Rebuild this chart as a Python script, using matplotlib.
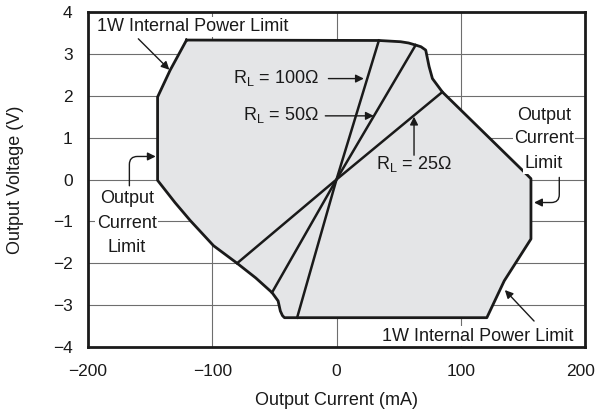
import matplotlib
matplotlib.use("Agg")
import matplotlib.pyplot as plt
from matplotlib.transforms import ScaledTranslation

plt.rcParams['font.family'] = ['Liberation Sans', 'DejaVu Sans']

# Safe operating boundary (current mA, voltage V)
boundary_i = [-120.7, -133.9, -144.0, -144.0, -130.0, -117.7, -99.0, -80.0, -65.0,
              -51.9, -47.0, -45.2, -43.5, -41.9, 121.0, 135.0, 156.5, 156.5, 153.8,
              85.2, 77.2, 74.5, 71.8, 68.0, 63.7, 58.0, 51.6, 34.1, -120.7]
boundary_v = [3.33, 2.61, 1.97, -0.02, -0.55, -0.98, -1.58, -2.00, -2.35,
              -2.70, -2.90, -3.14, -3.25, -3.30, -3.30, -2.42, -1.42, 0.02, 0.10,
              2.09, 2.41, 2.70, 3.09, 3.17, 3.21, 3.26, 3.29, 3.32, 3.33]

# Load lines: endpoints (current mA, voltage V)
load_names = ["100", "50", "25"]
load_i = [[-31.7, 34.1], [-51.9, 63.7], [-80.0, 85.2]]
load_v = [[-3.30, 3.32], [-2.70, 3.21], [-2.00, 2.09]]

x_ticks = [-200, -100, 0, 100, 200]
y_ticks = [-4, -3, -2, -1, 0, 1, 2, 3, 4]

fig = plt.figure(figsize=(5.98, 4.15), dpi=100)
ax = fig.add_axes([88/598, 1-347/415, (585-88)/598, (347-12)/415])

ax.fill(boundary_i, boundary_v, color='#e4e5e7', zorder=1, lw=0)
ax.plot(boundary_i, boundary_v, color='#1a1a1a', lw=2.0, zorder=3, solid_joinstyle='round')
for li, lv in zip(load_i, load_v):
    ax.plot([li[0], 0, li[1]], [lv[0], 0, lv[1]], color='#1a1a1a', lw=1.8, zorder=3)

ax.set_xlim(-200, 200)
ax.set_ylim(-4, 4)
ax.set_xticks(x_ticks)
ax.set_yticks(y_ticks)
ax.grid(True, color='#6e6e6e', lw=0.8, zorder=0)
ax.set_axisbelow(True)
for s in ax.spines.values():
    s.set_linewidth(2.0)
    s.set_color('#1a1a1a')
ax.tick_params(length=0, labelsize=12.5, colors='#1a1a1a')
ax.tick_params(axis='x', pad=12)
ax.tick_params(axis='y', pad=11)
ax.set_xlabel('Output Current (mA)', fontsize=13, color='#1a1a1a')
ax.set_ylabel('Output Voltage (V)', fontsize=13, color='#1a1a1a')
ax.xaxis.set_label_coords(0.5, (347-392)/335)
ax.yaxis.set_label_coords((24-88)/497, 0.5)

# keep the rightmost x tick label inside the canvas
last_lbl = ax.xaxis.get_major_ticks()[-1].label1
last_lbl.set_transform(last_lbl.get_transform() + ScaledTranslation(-4/100, 0, fig.dpi_scale_trans))

fs = 13
tc = '#1a1a1a'
arrow = dict(arrowstyle='-|>', color=tc, lw=1.0, mutation_scale=12, shrinkA=0, shrinkB=0)
wb = dict(facecolor='white', edgecolor='none', pad=1.0)

# top-left power limit
ax.text(-193, 3.65, '1W Internal Power Limit', fontsize=fs, color=tc, va='center', ha='left',
        bbox=wb, zorder=4)
ax.annotate('', xy=(-134.5, 2.62), xytext=(-159.5, 3.36), arrowprops=arrow, zorder=5)

# bottom-right power limit
ax.text(191, -3.74, '1W Internal Power Limit', fontsize=fs, color=tc, va='center', ha='right',
        bbox=wb, zorder=4)
ax.annotate('', xy=(135.5, -2.64), xytext=(159, -3.38), arrowprops=arrow, zorder=5)

# RL labels
ax.text(-14.5, 2.42, r'R$_{\mathregular{L}}$ = 100Ω', fontsize=fs, color=tc, va='center', ha='right', zorder=4)
ax.annotate('', xy=(22.0, 2.41), xytext=(-6.5, 2.41), arrowprops=arrow, zorder=5)
ax.text(-14.5, 1.53, r'R$_{\mathregular{L}}$ = 50Ω', fontsize=fs, color=tc, va='center', ha='right', zorder=4)
ax.annotate('', xy=(30.0, 1.52), xytext=(-9.0, 1.52), arrowprops=arrow, zorder=5)
ax.text(31.5, 0.38, r'R$_{\mathregular{L}}$ = 25Ω', fontsize=fs, color=tc, va='center', ha='left', zorder=4)
ax.annotate('', xy=(62.4, 1.50), xytext=(62.4, 0.58), arrowprops=arrow, zorder=5)

# Output current limit right
for txt, yy in zip(['Output', 'Current', 'Limit'], [1.53, 0.98, 0.38]):
    ax.text(167, yy, txt, fontsize=fs, color=tc, va='center', ha='center', bbox=wb, zorder=4)
arrow_c = dict(arrow, connectionstyle='angle,angleA=90,angleB=0,rad=8')
ax.annotate('', xy=(159, -0.55), xytext=(179.3, 0.05), arrowprops=arrow_c, zorder=5)

# Output current limit left
for txt, yy in zip(['Output', 'Current', 'Limit'], [-0.46, -1.05, -1.62]):
    ax.text(-168.8, yy, txt, fontsize=fs, color=tc, va='center', ha='center', bbox=wb, zorder=4)
ax.annotate('', xy=(-145.5, 0.55), xytext=(-166.7, -0.15), arrowprops=arrow_c, zorder=5)

fig.savefig('out.png', dpi=100)
